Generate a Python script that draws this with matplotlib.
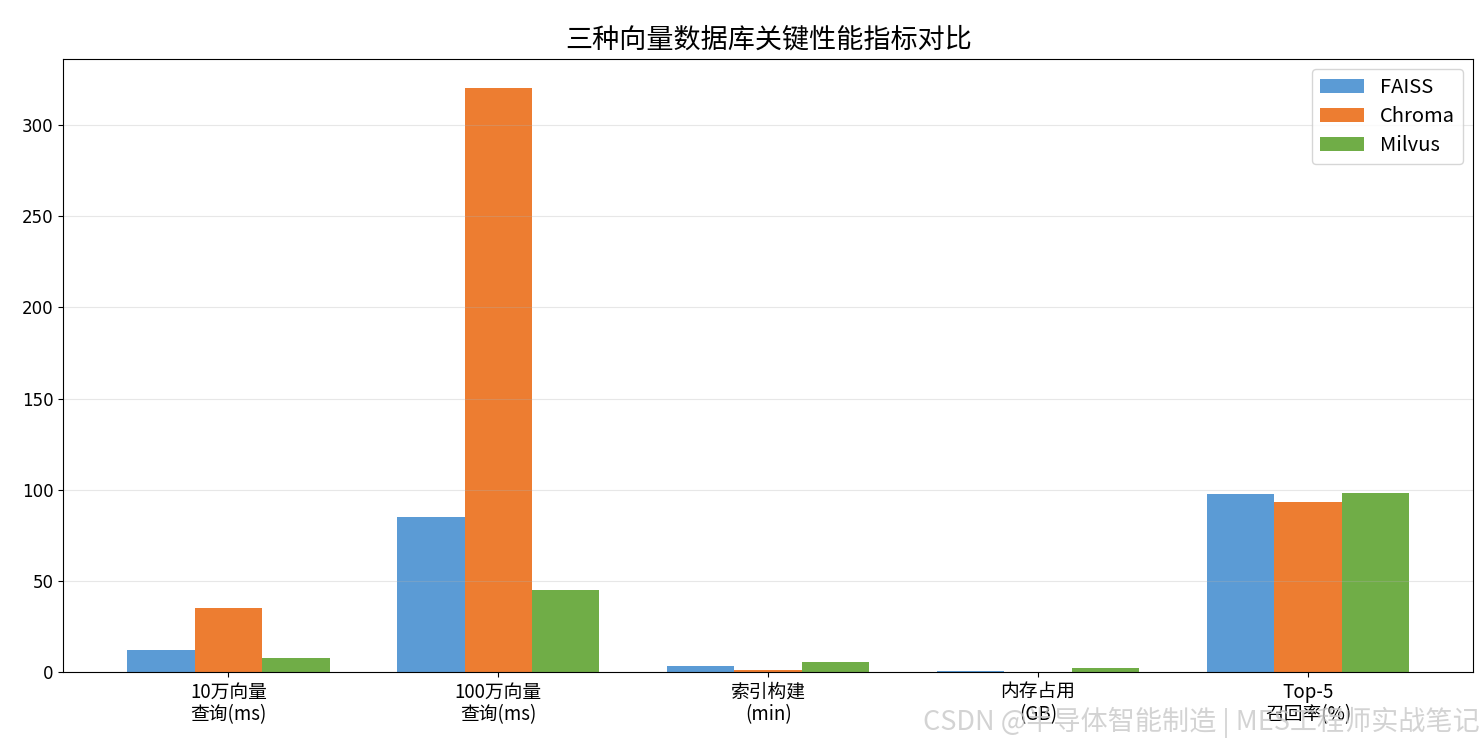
import numpy as np
from matplotlib import pyplot as plt

plt.rcParams['font.family'] = ['Noto Sans CJK SC', 'DejaVu Sans']
plt.rcParams['axes.unicode_minus'] = False

metrics = ['10万向量\n查询(ms)', '100万向量\n查询(ms)', '索引构建\n(min)', '内存占用\n(GB)', 'Top-5\n召回率(%)']
faiss = [12, 85, 3.2, 0.8, 97.6]
chroma = [35, 320, 1.5, 0.3, 93.2]
milvus = [7.6, 45, 5.5, 2.1, 98.3]

colors = ['#5B9BD5', '#ED7D31', '#70AD47']

x = np.arange(len(metrics))
w = 0.25

fig, ax = plt.subplots(figsize=(14.83, 7.47), dpi=100)
ax.bar(x - w, faiss, w, label='FAISS', color=colors[0])
ax.bar(x, chroma, w, label='Chroma', color=colors[1])
ax.bar(x + w, milvus, w, label='Milvus', color=colors[2])

ax.set_xticks(x)
ax.set_xticklabels(metrics, fontsize=13.5, linespacing=1.05)
for lbl in ax.get_yticklabels():
    lbl.set_fontfamily('DejaVu Sans')
    lbl.set_fontsize(12)
ax.set_title('三种向量数据库关键性能指标对比', fontsize=19.5, pad=8)
ax.legend(fontsize=14.5, loc='upper right', handlelength=2.2, labelspacing=0.4)
ax.grid(axis='y', alpha=0.3)

fig.subplots_adjust(left=0.0425, right=0.9935, top=0.921, bottom=0.1)

fig.text(0.998, 0.012, 'CSDN @半导体智能制造 | MES工程师实战笔记', ha='right', va='bottom',
         fontsize=19.5, color='#c8c8c8', alpha=0.8)

plt.savefig('out.png', dpi=100)
